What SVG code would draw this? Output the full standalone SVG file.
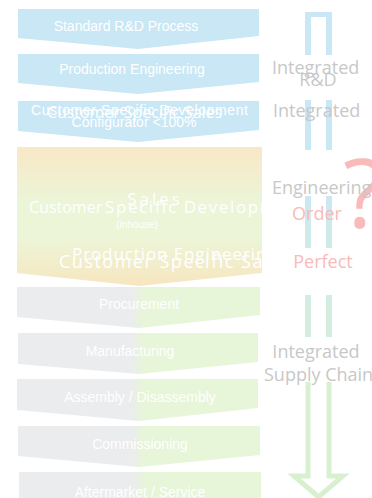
<svg xmlns="http://www.w3.org/2000/svg" width="372" height="498" viewBox="0 0 372 498">
<defs>
<linearGradient id="gBlock" x1="0" y1="0" x2="0" y2="1">
<stop offset="0" stop-color="#f8e8c6"/>
<stop offset="0.4" stop-color="#ecf5d8"/>
<stop offset="0.65" stop-color="#ecf5d8"/>
<stop offset="1" stop-color="#f7e6c0"/>
</linearGradient>
<linearGradient id="gSplit" x1="0" y1="0" x2="1" y2="0">
<stop offset="0.47" stop-color="#ebecee"/>
<stop offset="0.52" stop-color="#e7f5d8"/>
</linearGradient>
<linearGradient id="gBar3" x1="0" y1="0" x2="0" y2="1">
<stop offset="0" stop-color="#cbe8f2"/>
<stop offset="1" stop-color="#cfebe6"/>
</linearGradient>
</defs>
<style>
.blue{fill:#c9e7f5}
.split{fill:url(#gSplit)}
.lbl{font-family:"Liberation Sans",Arial,sans-serif;font-size:14px;fill:#ffffff;text-anchor:middle}
.os{font-family:"Open Sans","Noto Sans",sans-serif;fill:#ffffff}
.side{font-family:"Open Sans","Noto Sans",sans-serif;font-size:18px;fill:#c8c8c8}
.pink{font-family:"Open Sans","Noto Sans",sans-serif;fill:#f9baba}
</style>
<g id="std-rd">
<polygon class="blue" points="18,9 259,9 259,36 138,49 18,38"/>
<text class="lbl" x="126" y="31">Standard R&amp;D Process</text>
</g>
<g id="prod-eng">
<polygon class="blue" points="18,54 259,54 259,82 138,94 18,83"/>
<text class="lbl" x="132" y="74">Production Engineering</text>
</g>
<g id="configurator">
<polygon class="blue" points="18,101 259,101 259,130 138,142 18,131"/>
<text class="lbl" x="31" y="115" style="text-anchor:start" textLength="217" lengthAdjust="spacing">Customer Specific Development</text>
<text class="os" x="47" y="118" font-size="16" textLength="175" lengthAdjust="spacing">Customer Specific Sales</text>
<text class="lbl" x="134" y="127">Configurator &lt;100%</text>
</g>
<g id="eto-block">
<polygon fill="url(#gBlock)" points="17,147 262,147 262,273 139,286 17,273"/>
<text class="os" x="155" y="205" font-size="17" text-anchor="middle" letter-spacing="3">Sales</text>
<text class="os" x="29" y="213" font-size="16">Customer</text>
<text class="os" x="105" y="213" font-size="17" letter-spacing="1.6">Specific Development</text>
<text class="lbl" x="137" y="228" style="font-size:10px">(inhouse)</text>
<text class="os" x="72" y="260" font-size="17" letter-spacing="0.9">Production Engineering</text>
<text class="os" x="59" y="268" font-size="18" letter-spacing="1.5">Customer Specific Sales</text>
</g>
<g id="procurement">
<polygon class="split" points="17,287 260,287 260,315 139,328 17,317"/>
<text class="lbl" x="139" y="309">Procurement</text>
</g>
<g id="manufacturing">
<polygon class="split" points="18,333 258,333 258,362 139,374 18,364"/>
<text class="lbl" x="130" y="356">Manufacturing</text>
</g>
<g id="assembly">
<polygon class="split" points="17,379 258,379 258,408 139,421 17,410"/>
<text class="lbl" x="140" y="402">Assembly / Disassembly</text>
</g>
<g id="commissioning">
<polygon class="split" points="18,426 260,426 260,455 139,467 18,456"/>
<text class="lbl" x="140" y="449">Commissioning</text>
</g>
<g id="aftermarket">
<polygon class="split" points="19,472 261,472 261,498 19,498"/>
<text class="lbl" x="140" y="497">Aftermarket / Service</text>
</g>
<g id="connectors">
<path d="M305,55 V12 H332 V55 H326 V17 H311 V55 Z" fill="#c9e7f5"/>
<rect x="305" y="100" width="6" height="50" fill="#c9e7f5"/>
<rect x="326" y="100" width="6" height="50" fill="#c9e7f5"/>
<rect x="305" y="196" width="6" height="52" fill="url(#gBar3)"/>
<rect x="326" y="196" width="6" height="52" fill="url(#gBar3)"/>
<rect x="305" y="295" width="6" height="42" fill="#d3ede1"/>
<rect x="326" y="295" width="6" height="42" fill="#d3ede1"/>
<path d="M308,382 V476 H294 L318.5,497 L343,476 H329 V382" fill="none" stroke="#d8f0d0" stroke-width="5"/>
</g>
<g id="labels-right">
<text class="side" x="272" y="74">Integrated</text>
<text class="side" x="318" y="86" text-anchor="middle">R&amp;D</text>
<text class="side" x="273" y="117">Integrated</text>
<text class="pink" x="343" y="228" font-size="95">?</text>
<text class="side" x="272" y="194">Engineering</text>
<text class="pink" x="317" y="220" font-size="18" text-anchor="middle">Order</text>
<text class="pink" x="323" y="268" font-size="18" text-anchor="middle">Perfect</text>
<text class="side" x="316" y="358" text-anchor="middle">Integrated</text>
<text class="side" x="264" y="381">Supply Chain</text>
</g>
</svg>
